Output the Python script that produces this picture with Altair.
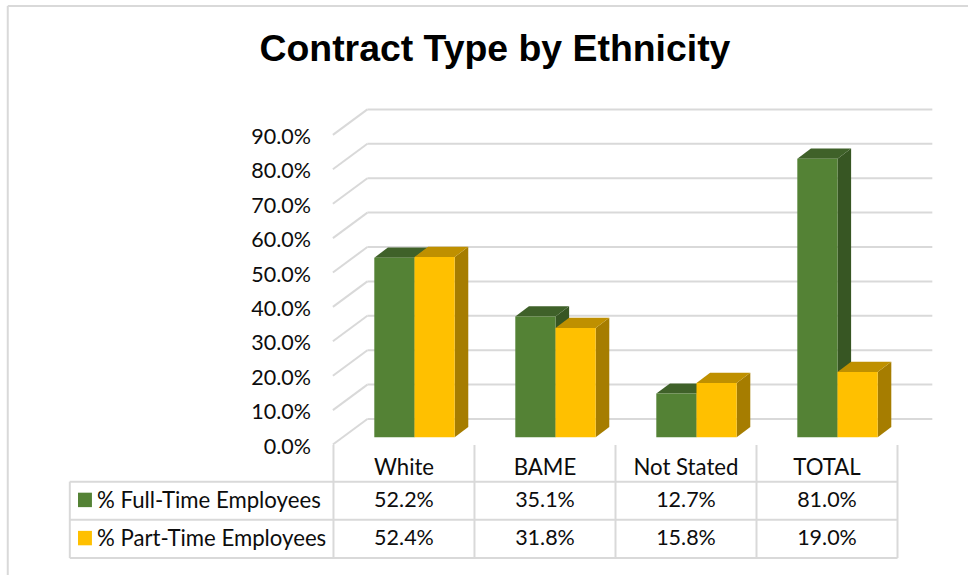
import altair as alt
import pandas as pd

# Chart values
categories = ["White", "BAME", "Not Stated", "TOTAL"]
full_time = [52.2, 35.1, 12.7, 81.0]
part_time = [52.4, 31.8, 15.8, 19.0]
series_names = ["% Full-Time Employees", "% Part-Time Employees"]
axis_ticks = [0, 10, 20, 30, 40, 50, 60, 70, 80, 90]

# Palette: front, top and side faces of the columns
GREEN = ("#548235", "#3f6129", "#375623")
YELLOW = ("#ffc000", "#bf9000", "#a67d00")
LINE = "#d9d9d9"
FONT = "Lato"
TEXT_SIZE = 22.2
NUMBER_SIZE = 21.5

# Coordinates: x counts category slots, y is in percentage points on the column plane
x_scale = alt.Scale(domain=[-2.865, 4.0], nice=False, zero=False)
y_scale = alt.Scale(domain=[-40.03, 127.12], nice=False, zero=False)
X = lambda f: alt.X(f, type="quantitative", scale=x_scale, axis=None)
Y = lambda f: alt.Y(f, type="quantitative", scale=y_scale, axis=None)

BAR_SHIFT = 0.0745       # columns sit slightly right of the slot centre
BAR_W = 0.285
DEPTH_X = 0.0965
DEPTH_Y = 2.97
WALL_X0, WALL_X1, WALL_X2 = -0.504, -0.2595, 3.747
WALL_FRONT, WALL_BACK = -2.09, 5.32
TICK_TEXT_DROP = -0.9
ROW_LINES = [-12.9, -23.95, -35.1]
TABLE_LEFT, TABLE_TOP = -2.37, -2.24
COL_EDGES = [-0.5, 0.5, 1.5, 2.5, 3.5]
LABEL_Y, ROW_Y = -8.9, [-18.5, -29.6]
SWATCH_Y = [-18.2, -29.3]


def rule(rows, width=2, color=LINE):
    return (
        alt.Chart(pd.DataFrame(rows))
        .mark_rule(color=color, strokeWidth=width)
        .encode(x=X("x"), x2="x2", y=Y("y"), y2="y2")
    )


def label(rows, size=TEXT_SIZE, align="center", weight="normal", font=FONT, color="#0d0d0d"):
    return (
        alt.Chart(pd.DataFrame(rows))
        .mark_text(align=align, baseline="middle", fontSize=size, font=font, fontWeight=weight, color=color)
        .encode(x=X("x"), y=Y("y"), text="t:N")
    )


def column_layers(values, left_offset, palette):
    front, top, side = palette
    fronts, tops, sides = [], [], []
    for i, v in enumerate(values):
        xl = i + BAR_SHIFT + left_offset
        xr = xl + BAR_W
        fronts.append({"x": xl, "x2": xr, "y": 0, "y2": v})
        tops += [
            {"id": i, "y": v, "x": xl, "x2": xr},
            {"id": i, "y": v + DEPTH_Y, "x": xl + DEPTH_X, "x2": xr + DEPTH_X},
        ]
        sides += [
            {"id": i, "x": xr, "y": v, "y2": 0},
            {"id": i, "x": xr + DEPTH_X, "y": v + DEPTH_Y, "y2": DEPTH_Y},
        ]
    return [
        alt.Chart(pd.DataFrame(sides))
        .mark_area(color=side, orient="vertical")
        .encode(x=X("x"), y=Y("y"), y2="y2", detail="id:N"),
        alt.Chart(pd.DataFrame(tops))
        .mark_area(color=top, orient="horizontal")
        .encode(y=Y("y"), x=X("x"), x2="x2", detail="id:N"),
        alt.Chart(pd.DataFrame(fronts))
        .mark_rect(color=front)
        .encode(x=X("x"), x2="x2", y=Y("y"), y2="y2"),
    ]


# Outer chart border
frame = rule(
    [
        {"x": -2.81, "x2": 4.0, "y": 125.4, "y2": 125.4},
        {"x": -2.81, "x2": -2.81, "y": 125.4, "y2": -40.03},
    ],
)

# Back wall gridlines and their slanted side-wall segments
wall_back = rule(
    [{"x": WALL_X1, "x2": WALL_X2, "y": t + WALL_BACK, "y2": t + WALL_BACK} for t in axis_ticks]
)
wall_side = (
    alt.Chart(
        pd.DataFrame(
            [{"id": t, "x": WALL_X0, "y": t + WALL_FRONT} for t in axis_ticks]
            + [{"id": t, "x": WALL_X1, "y": t + WALL_BACK} for t in axis_ticks]
        )
    )
    .mark_line(color=LINE, strokeWidth=2)
    .encode(x=X("x"), y=Y("y"), detail="id:N")
)

# Axis labels
tick_labels = label(
    [{"x": -0.66, "y": t + WALL_FRONT + TICK_TEXT_DROP, "t": f"{t:.1f}%"} for t in axis_ticks],
    size=NUMBER_SIZE,
    align="right",
)

# Data table under the plot
table_h = rule(
    [{"x": TABLE_LEFT, "x2": COL_EDGES[-1], "y": y, "y2": y} for y in ROW_LINES]
)
table_v = rule(
    [{"x": x, "x2": x, "y": TABLE_TOP, "y2": ROW_LINES[-1]} for x in COL_EDGES]
    + [{"x": TABLE_LEFT, "x2": TABLE_LEFT, "y": ROW_LINES[0], "y2": ROW_LINES[-1]}]
)
cat_labels = label([{"x": i, "y": LABEL_Y, "t": c} for i, c in enumerate(categories)])
value_labels = label(
    [{"x": i, "y": ROW_Y[0], "t": f"{v:.1f}%"} for i, v in enumerate(full_time)]
    + [{"x": i, "y": ROW_Y[1], "t": f"{v:.1f}%"} for i, v in enumerate(part_time)],
    size=NUMBER_SIZE,
)
legend_text = label(
    [{"x": -2.177, "y": y, "t": n} for y, n in zip(ROW_Y, series_names)], align="left"
)
swatches = (
    alt.Chart(
        pd.DataFrame(
            [
                {"x": -2.312, "x2": -2.213, "y": y - 2.1, "y2": y + 2.1, "c": c}
                for y, c in zip(SWATCH_Y, [GREEN[0], YELLOW[0]])
            ]
        )
    )
    .mark_rect()
    .encode(x=X("x"), x2="x2", y=Y("y"), y2="y2", color=alt.Color("c:N", scale=None))
)

title = label(
    [{"x": 0.645, "y": 112.7, "t": "Contract Type by Ethnicity"}],
    size=37.4,
    weight="bold",
    font="Liberation Sans",
    color="#000000",
)

chart = alt.layer(
    frame,
    wall_back,
    wall_side,
    *column_layers(full_time, -BAR_W, GREEN),
    *column_layers(part_time, 0, YELLOW),
    tick_labels,
    table_h,
    table_v,
    cat_labels,
    value_labels,
    swatches,
    legend_text,
    title,
).properties(
    width=968,
    height=575,
    padding=0,
    background="white",
    autosize=alt.AutoSizeParams(type="none"),
).configure_view(stroke=None)

chart.save("out.html", embed_options={"renderer": "svg", "actions": False})
